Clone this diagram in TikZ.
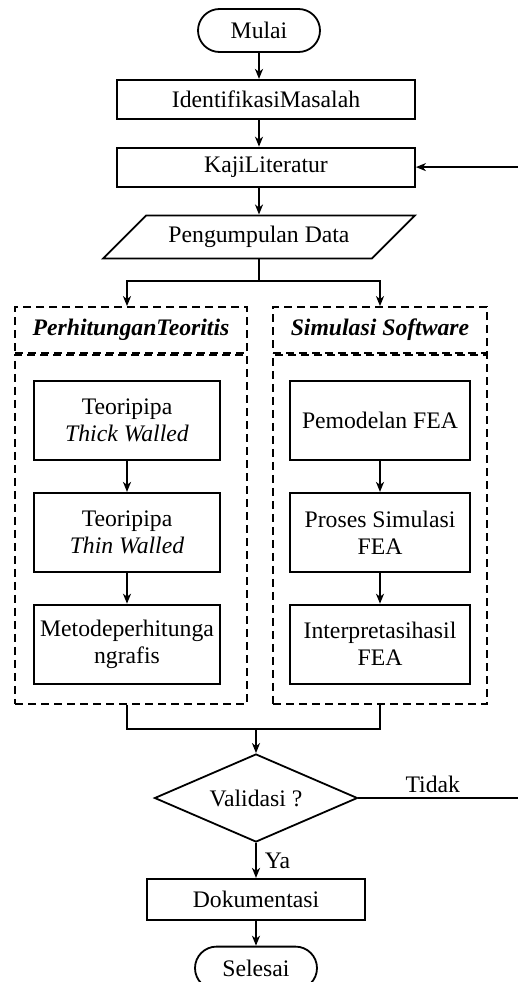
\documentclass[tikz,border=0pt]{standalone}
\usepackage{fontspec}
\setmainfont{Liberation Serif}
\usetikzlibrary{shapes.geometric, shapes.misc, arrows.meta, positioning, calc}

\begin{document}
\begin{tikzpicture}[
    x=1pt, y=-1pt,
    line width=1.8pt,
    font=\fontsize{23.7}{27}\selectfont,
    terminal/.style={rounded rectangle, draw, minimum width=122pt, minimum height=43pt, inner sep=0pt},
    process/.style={rectangle, draw, minimum width=298pt, minimum height=39pt, inner sep=0pt, align=center},
    dataio/.style={trapezium, trapezium left angle=45, trapezium right angle=135, trapezium stretches body,
                   draw, minimum width=312pt, minimum height=43pt, inner xsep=0pt, inner ysep=10.8pt},
    groupbox/.style={rectangle, draw, dash pattern=on 8pt off 5pt, minimum width=232pt, inner sep=0pt},
    subbox/.style={rectangle, draw, minimum height=79pt, inner sep=0pt, align=center},
    decision/.style={diamond, draw, aspect=2.3, minimum width=203pt, minimum height=88pt, inner sep=0pt},
    flowarrow/.style={-{Stealth[length=10pt, width=8pt, inset=3pt]}}
]
    \useasboundingbox (0,0) rectangle (517,982);

    % Main column
    \node[terminal] (mulai) at (259,30.5) {Mulai};
    \node[process, below=26pt of mulai, xshift=7pt] (identifikasi) {IdentifikasiMasalah};
    \node[process, below=27pt of identifikasi] (kaji) {KajiLiteratur};
    \node[dataio, below=27pt of kaji, xshift=-7pt] (data) {Pengumpulan Data};

    % Perhitungan Teoritis
    \node[groupbox, minimum height=46pt] (ltitle) at (131,330) {\textbf{\textit{PerhitunganTeoritis}}};
    \node[groupbox, minimum height=349pt, below=0pt of ltitle] (lbody) {};
    \node[subbox, minimum width=186pt] (lthick) at (127,420.5) {Teoripipa\\\textit{Thick Walled}};
    \node[subbox, minimum width=186pt, below=31pt of lthick] (lthin) {Teoripipa\\\textit{Thin Walled}};
    \node[subbox, minimum width=186pt, below=31pt of lthin] (lgraph) {Metodeperhitunga\\ngrafis};

    % Simulasi Software
    \node[groupbox, minimum width=214pt, minimum height=46pt] (rtitle) at (380,330) {\textbf{\textit{Simulasi Software}}};
    \node[groupbox, minimum width=214pt, minimum height=349pt, below=0pt of rtitle] (rbody) {};
    \node[subbox, minimum width=180pt] (rmodel) at (380,420.5) {Pemodelan FEA};
    \node[subbox, minimum width=180pt, below=31pt of rmodel] (rproses) {Proses Simulasi\\FEA};
    \node[subbox, minimum width=180pt, below=31pt of rproses] (rhasil) {Interpretasihasil\\FEA};

    % Validasi and end
    \node[decision] (valid) at (256,798) {Validasi ?};
    \node[process, minimum width=218pt, minimum height=41pt, below=35pt of valid] (docu) {Dokumentasi};
    \node[terminal, below=25pt of docu] (selesai) {Selesai};

    \coordinate (split) at (259,281);
    \coordinate (merge) at (256,729);
    \coordinate (backlow) at (520,798);

    % Arrows
    \draw[flowarrow] (mulai.south) -- (mulai.south |- identifikasi.north);
    \draw[flowarrow] (mulai.south |- identifikasi.south) -- (mulai.south |- kaji.north);
    \draw[flowarrow] (data.north |- kaji.south) -- (data.north);
    \draw (data.south) -- (split);
    \draw[flowarrow] (split) -| (lthick.north |- ltitle.north);
    \draw[flowarrow] (split) -| (rmodel.north |- rtitle.north);

    \draw[flowarrow] (lthick) -- (lthin);
    \draw[flowarrow] (lthin) -- (lgraph);
    \draw[flowarrow] (rmodel) -- (rproses);
    \draw[flowarrow] (rproses) -- (rhasil);

    \draw (lgraph.south |- lbody.south) |- (merge) -| (rhasil.south |- rbody.south);
    \draw[flowarrow] (merge) -- (valid.north);

    \draw[flowarrow] (valid.south) -- node[right, inner sep=3pt, xshift=5pt] {Ya} (docu.north);
    \draw[flowarrow] (docu.south) -- (selesai.north);

    \draw[flowarrow] (valid.east) -- node[pos=0.46, above, inner sep=4pt] {Tidak} (backlow) |- (kaji.east);
\end{tikzpicture}
\end{document}
